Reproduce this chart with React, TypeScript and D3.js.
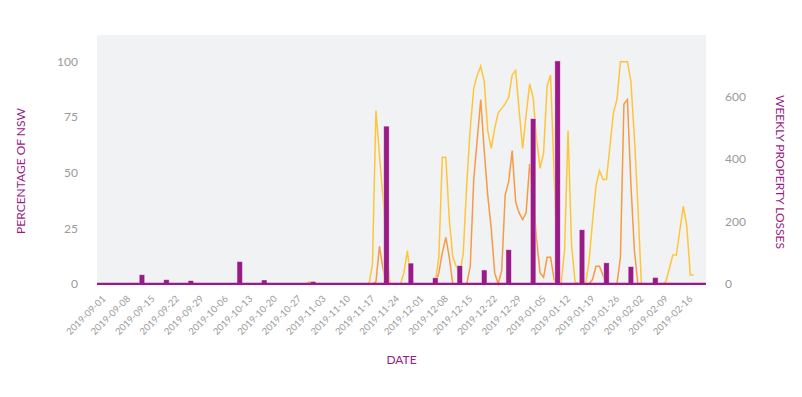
import * as d3 from 'd3';
import React from 'react';

// weekly axis labels (as printed on the original chart)
const tickLabels = [
  '2019-09-01', '2019-09-08', '2019-09-15', '2019-09-22', '2019-09-29',
  '2019-10-06', '2019-10-13', '2019-10-20', '2019-10-27', '2019-11-03',
  '2019-11-10', '2019-11-17', '2019-11-24', '2019-12-01', '2019-12-08',
  '2019-12-15', '2019-12-22', '2019-12-29', '2019-01-05', '2019-01-12',
  '2019-01-19', '2019-01-26', '2019-02-02', '2019-02-09', '2019-02-16',
];
const tickStart = '2019-09-01';

// weekly property losses (right axis), one bar a week
const barStart = '2019-09-13';
const weeklyLosses = [
  30, 14, 11, 0, 72, 13, 0, 8, 0, 0, 506,
  67, 20, 59, 45, 110, 530, 715, 174, 68, 56, 21,
];

// daily percentage of NSW (left axis), from lineStart
const lineStart = '2019-10-28';
const yellowPct = [
  0, 0, 0, 1, 1, 0,
  0, 0, 0, 0, 0, 0, 0, 0, 0, 0, 0, 0, 0, 0,
  0, 9, 78, 58, 39, 19, 0, 0, 0, 0,
  5, 15, 0, 0, 0, 0, 0, 0, 0, 1,
  12, 57, 57, 29, 12, 8, 4, 14, 45, 70,
  88, 94, 98, 91, 69, 61, 70, 77, 79, 81,
  84, 94, 96, 78, 61, 76, 90, 84, 65, 52,
  59, 89, 94, 50, 3, 0, 15, 69, 18, 1,
  0, 0, 0, 10, 28, 44, 51, 47, 47, 62,
  77, 83, 100, 100, 100, 91, 66, 35, 0, 0,
  0, 0, 0, 0, 0, 1, 7, 13, 13, 24,
  35, 26, 4, 4,
];
const orangePct = [
  0, 0, 0, 0, 0, 0, 0, 0, 0, 0, 0, 0, 0, 0, 0, 0, 0, 0, 0, 0,
  0, 0, 1, 17, 7, 0, 0, 0, 0, 0,
  0, 0, 0, 0, 0, 0, 0, 0, 0, 0,
  5, 14, 21, 12, 0, 0, 0, 0, 0, 8,
  47, 65, 83, 60, 40, 25, 5, 0, 6, 40,
  46, 60, 37, 32, 29, 32, 54, 40, 20, 5,
  3, 12, 12, 2, 0, 0, 0, 0, 0, 0,
  0, 0, 0, 0, 2, 8, 8, 4, 0, 0,
  0, 0, 12, 81, 83, 45, 15, 0, 0, 0,
];

const leftTicks = [0, 25, 50, 75, 100];
const rightTicks = [0, 200, 400, 600];

const PURPLE = '#981b88';
const YELLOW = '#ffc53a';
const ORANGE = '#f79a45';
const GREY = '#9a9a9a';
const FONT = 'Lato, "Open Sans", sans-serif';

const parseDay = d3.timeParse('%Y-%m-%d');
const parseStamp = d3.timeParse('%Y-%m-%dT%H:%M');

export default function App() {
  const W = 802;
  const H = 397;
  const left = 97;
  const right = 706;
  const top = 35;
  const bottom = 284;

  const x = d3
    .scaleTime()
    .domain([parseStamp('2019-08-31T03:00'), parseStamp('2020-02-21T12:00')])
    .range([left, right]);
  const yL = d3.scaleLinear().domain([0, 112]).range([bottom, top]);
  const yR = d3.scaleLinear().domain([0, 798]).range([bottom, top]);

  const t0 = parseDay(tickStart);
  const b0 = parseDay(barStart);
  const l0 = parseDay(lineStart);

  const line = d3
    .line<number>()
    .x((_, i) => x(d3.timeDay.offset(l0, i)))
    .y(v => yL(v));

  const barW = x(d3.timeHour.offset(b0, 38)) - x(b0);

  return (
    <svg width={W} height={H} style={{ display: 'block', fontFamily: FONT }}>
      <style>{`body{margin:0}`}</style>
      <rect x={left} y={top} width={right - left} height={bottom - top + 1} fill="#f1f2f4" />

      <path d={line(yellowPct)} fill="none" stroke={YELLOW} strokeWidth={1.5} />
      <path d={line(orangePct)} fill="none" stroke={ORANGE} strokeWidth={1.5} />

      {weeklyLosses.map((v, i) => {
        if (!v) return null;
        const cx = x(d3.timeDay.offset(b0, 7 * i));
        return (
          <rect
            key={i}
            x={cx - barW / 2}
            y={yR(v)}
            width={barW}
            height={yR(0) - yR(v)}
            fill={PURPLE}
            stroke="#ffffff"
            strokeOpacity={0.6}
            strokeWidth={0.8}
          />
        );
      })}

      <line x1={left} x2={right} y1={bottom - 0.2} y2={bottom - 0.2} stroke={PURPLE} strokeWidth={2.2} />

      {leftTicks.map(t => (
        <text key={t} x={78} y={yL(t)} dy="0.35em" textAnchor="end" fontSize={12} fill={GREY}>
          {t}
        </text>
      ))}
      {rightTicks.map(t => (
        <text key={t} x={725} y={yR(t)} dy="0.35em" textAnchor="start" fontSize={12} fill={GREY}>
          {t}
        </text>
      ))}

      {tickLabels.map((lab, i) => {
        const tx = x(d3.timeDay.offset(t0, 7 * i));
        return (
          <text
            key={lab}
            transform={`translate(${tx + 4},${297}) rotate(-45)`}
            dy="0.35em"
            textAnchor="end"
            fontSize={9.5}
            fill={GREY}
          >
            {lab}
          </text>
        );
      })}

      <text x={(left + right) / 2} y={364} textAnchor="middle" fontSize={12} fill={PURPLE}>
        DATE
      </text>
      <text
        transform={`translate(25,171) rotate(-90)`}
        textAnchor="middle"
        fontSize={12}
        fill={PURPLE}
      >
        PERCENTAGE OF NSW
      </text>
      <text
        transform={`translate(776,172) rotate(90)`}
        textAnchor="middle"
        fontSize={12}
        fill={PURPLE}
      >
        WEEKLY PROPERTY LOSSES
      </text>
    </svg>
  );
}
